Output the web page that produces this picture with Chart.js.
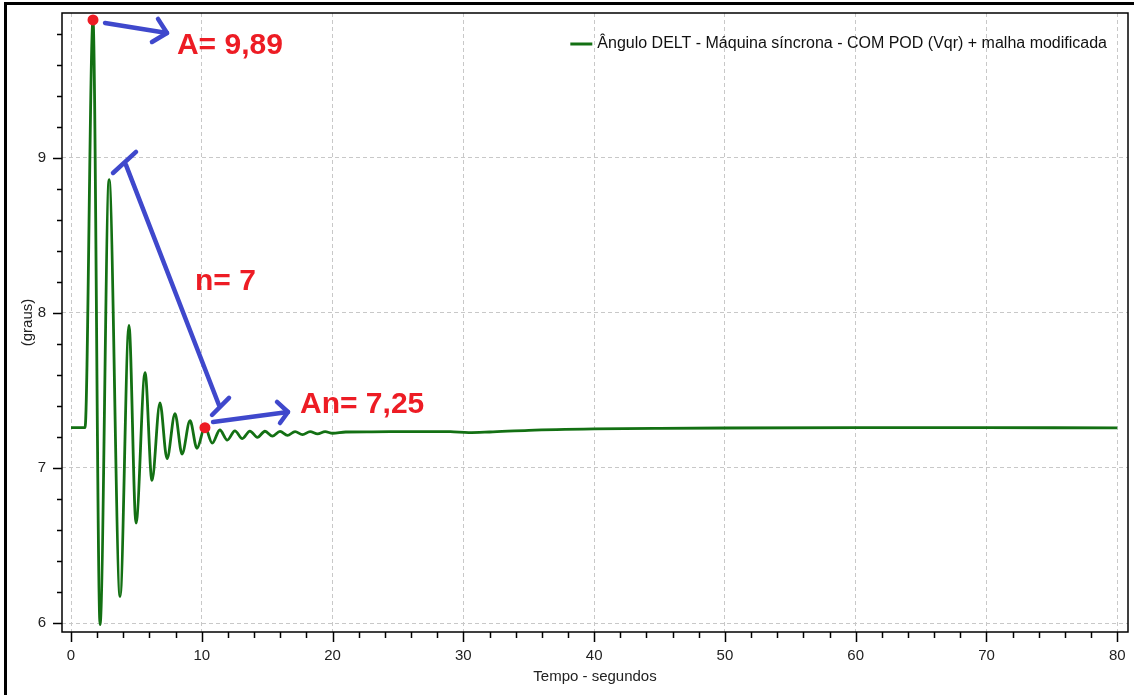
<!DOCTYPE html>
<html>
<head>
<meta charset="utf-8">
<script src="https://cdn.jsdelivr.net/npm/chart.js@4/dist/chart.umd.min.js"></script>
<style>
  html, body { margin: 0; background: #fff; }
  #wrap { width: 1134px; height: 695px; position: relative; }
</style>
</head>
<body>
<div id="wrap"><canvas id="graph"></canvas></div>
<script>
// serie: angulo DELT (graus) x tempo (s)
const seriesLabel = 'Ângulo DELT - Máquina síncrona - COM POD (Vqr) + malha modificada';
const tempo = [0, 1.07, 1.68, 2.22, 2.91, 3.75, 4.43, 4.97, 5.66, 6.19, 6.80, 7.34, 7.95, 8.49,
  9.10, 9.63, 10.24, 10.8, 11.38, 11.95, 12.53, 13.1, 13.68, 14.25, 14.83, 15.4, 15.98, 16.55,
  17.13, 17.7, 18.28, 18.85, 19.43, 20.0, 21, 23, 26, 29, 30.4, 32, 35, 40, 45, 50, 60, 70, 80];
const angulo = [7.26, 7.26, 9.89, 5.99, 8.86, 6.17, 7.92, 6.645, 7.615, 6.92, 7.42, 7.06, 7.35, 7.09,
  7.305, 7.127, 7.265, 7.16, 7.245, 7.18, 7.24, 7.19, 7.238, 7.198, 7.237, 7.205, 7.236, 7.21,
  7.235, 7.215, 7.235, 7.22, 7.234, 7.224, 7.232, 7.233, 7.235, 7.234, 7.228, 7.232, 7.243, 7.252,
  7.256, 7.258, 7.26, 7.26, 7.259];

// pontos marcados (A e An)
const marcasTempo = [1.68, 10.24];
const marcasValor = [9.89, 7.26];

const xLabels = [0, 10, 20, 30, 40, 50, 60, 70, 80];
const yLabels = [6, 7, 8, 9];
const xMinorStep = 2;
const yMinorStep = 0.2;

// anotacoes a mao (coordenadas em tempo / graus)
const notasTexto = ['A= 9,89', 'n= 7', 'An= 7,25'];
const notasX = [8.10, 9.48, 17.51];
const notasY = [9.671, 8.148, 7.355];
const tracos = [
  [[2.60, 9.871], [7.34, 9.806]],
  [[6.65, 9.897], [7.34, 9.806], [6.19, 9.748]],
  [[4.20, 8.955], [11.31, 7.406]],
  [[3.21, 8.903], [4.97, 9.039]],
  [[10.78, 7.342], [12.08, 7.452]],
  [[10.86, 7.297], [16.59, 7.361]],
  [[15.75, 7.426], [16.59, 7.361], [15.98, 7.290]]
];

const FONT = '"Liberation Sans", Arial, sans-serif';
const GREEN = '#137013';

const moldura = {
  id: 'moldura',
  beforeDraw(chart) {
    const {ctx, width, height} = chart;
    ctx.save();
    ctx.fillStyle = '#fff';
    ctx.fillRect(0, 0, width, height);
    ctx.fillStyle = '#000';
    ctx.fillRect(4, 2, width - 4, 3);
    ctx.fillRect(4, 2, 3, height - 2);
    ctx.restore();
  },
  afterDraw(chart) {
    const {ctx, chartArea} = chart;
    const xs = chart.scales.x, ys = chart.scales.y;
    ctx.save();
    // caixa do grafico
    ctx.strokeStyle = '#000';
    ctx.lineWidth = 1.5;
    ctx.strokeRect(chartArea.left, chartArea.top, chartArea.right - chartArea.left, chartArea.bottom - chartArea.top);
    // marcas dos eixos
    ctx.beginPath();
    for (let k = 0; k <= 80 / xMinorStep; k++) {
      const v = k * xMinorStep;
      const px = Math.round(xs.getPixelForValue(v)) + 0.5;
      const len = v % 10 === 0 ? 10 : 6;
      ctx.moveTo(px, chartArea.bottom);
      ctx.lineTo(px, chartArea.bottom + len);
    }
    for (let k = 30; k <= 49; k++) {
      const v = k * yMinorStep;
      const py = Math.round(ys.getPixelForValue(v)) + 0.5;
      const len = k % 5 === 0 ? 9 : 5;
      ctx.moveTo(chartArea.left, py);
      ctx.lineTo(chartArea.left - len, py);
    }
    ctx.stroke();

    // legenda
    const ds = chart.data.datasets[0];
    ctx.font = '16px ' + FONT;
    const w = ctx.measureText(ds.label).width;
    const xr = chartArea.right - 21;
    const yl = chartArea.top + 31;
    ctx.fillStyle = '#111';
    ctx.textAlign = 'right';
    ctx.textBaseline = 'middle';
    ctx.fillText(ds.label, xr, yl);
    ctx.strokeStyle = ds.borderColor;
    ctx.lineWidth = 3;
    ctx.beginPath();
    ctx.moveTo(xr - w - 27, yl);
    ctx.lineTo(xr - w - 5, yl);
    ctx.stroke();

    // setas azuis
    ctx.strokeStyle = '#3f48cc';
    ctx.lineWidth = 4.5;
    ctx.lineCap = 'round';
    ctx.lineJoin = 'round';
    tracos.forEach(tr => {
      ctx.beginPath();
      tr.forEach(([t, g], i) => {
        const px = xs.getPixelForValue(t), py = ys.getPixelForValue(g);
        if (i === 0) ctx.moveTo(px, py); else ctx.lineTo(px, py);
      });
      ctx.stroke();
    });

    // textos vermelhos
    ctx.fillStyle = '#ed1c24';
    ctx.font = 'bold 30px ' + FONT;
    ctx.textAlign = 'left';
    ctx.textBaseline = 'alphabetic';
    notasTexto.forEach((txt, i) => {
      ctx.fillText(txt, xs.getPixelForValue(notasX[i]), ys.getPixelForValue(notasY[i]));
    });
    ctx.restore();
  }
};

const chart = new Chart(document.getElementById('graph'), {
  type: 'line',
  data: {
    datasets: [{
      label: seriesLabel,
      data: tempo.map((t, i) => ({x: t, y: angulo[i]})),
      borderColor: GREEN,
      borderWidth: 2.8,
      pointRadius: 0,
      cubicInterpolationMode: 'monotone',
      order: 2
    }, {
      label: 'marcas',
      data: marcasTempo.map((t, i) => ({x: t, y: marcasValor[i]})),
      showLine: false,
      pointRadius: 5.5,
      pointBackgroundColor: '#ed1c24',
      pointBorderWidth: 0,
      order: 1
    }]
  },
  options: {
    responsive: true,
    maintainAspectRatio: false,
    animation: false,
    layout: {padding: {top: 13, right: 6, left: 0, bottom: 0}},
    plugins: {legend: {display: false}, tooltip: {enabled: false}},
    scales: {
      x: {
        type: 'linear',
        min: -0.69,
        max: 80.82,
        afterBuildTicks: s => { s.ticks = xLabels.map(v => ({value: v})); },
        afterFit: s => { s.height = 63; s.paddingLeft = 0; s.paddingRight = 0; },
        grid: {color: '#c8c8c8', lineWidth: 1, drawTicks: false},
        border: {display: false, dash: [4, 3]},
        ticks: {font: {family: FONT, size: 15}, color: '#222', padding: 15, autoSkip: false, maxRotation: 0},
        title: {display: true, text: 'Tempo - segundos', font: {family: FONT, size: 15}, color: '#222', padding: {top: 0, bottom: 9}}
      },
      y: {
        type: 'linear',
        min: 5.942,
        max: 9.935,
        afterBuildTicks: s => { s.ticks = yLabels.map(v => ({value: v})); },
        afterFit: s => { s.width = 62; s.paddingTop = 0; s.paddingBottom = 0; },
        grid: {color: '#c8c8c8', lineWidth: 1, drawTicks: false},
        border: {display: false, dash: [4, 3]},
        ticks: {font: {family: FONT, size: 15}, color: '#222', padding: 16},
        title: {display: true, text: '(graus)', font: {family: FONT, size: 15}, color: '#222', padding: {top: 19, bottom: 0}}
      }
    }
  },
  plugins: [moldura]
});
</script>
</body>
</html>
